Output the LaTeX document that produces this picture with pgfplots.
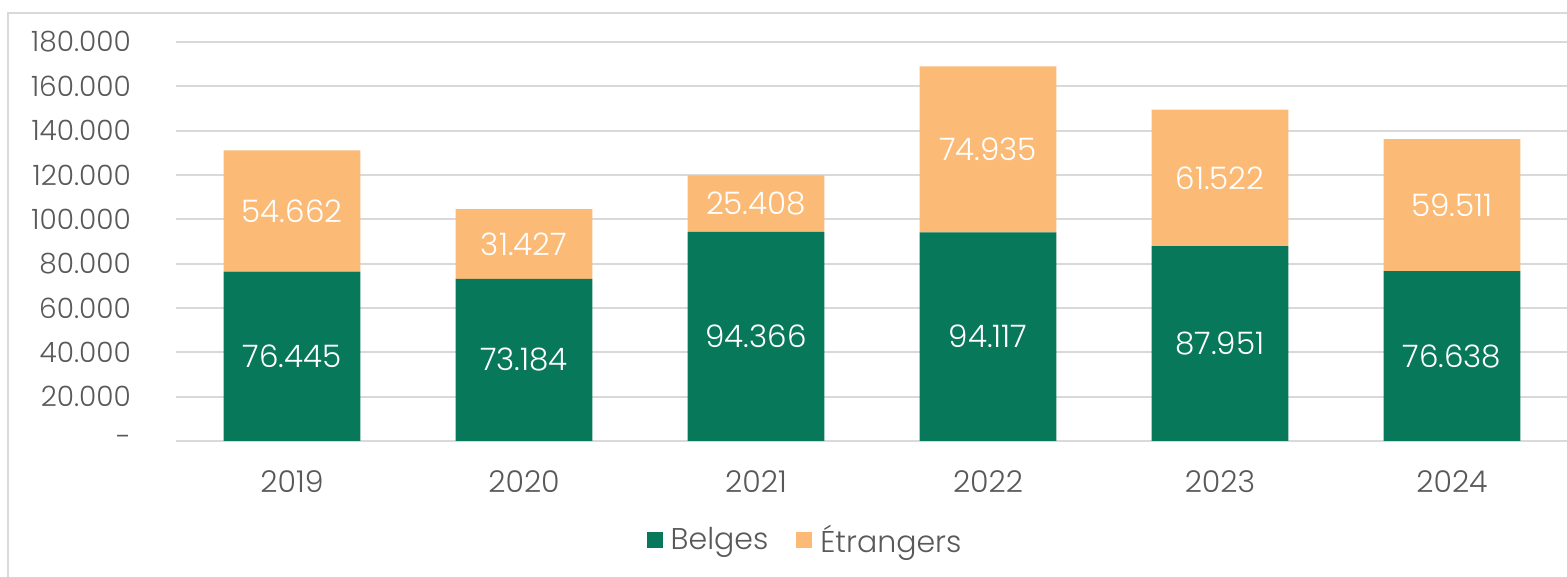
\documentclass[border=0pt]{standalone}
\usepackage{pgfplots}
\usepackage{pgfplotstable}
\usepackage{fontspec}
\setmainfont{Poppins Light}
\pgfplotsset{compat=1.18}

\definecolor{belges}{HTML}{07785A}
\definecolor{etrangers}{HTML}{FBBB77}
\definecolor{txt}{HTML}{595959}
\definecolor{gridc}{HTML}{D9D9D9}

% visiteurs par annee
\pgfplotstableread{
x  b      e
0  76445  54662
1  73184  31427
2  94366  25408
3  94117  74935
4  87951  61522
5  76638  59511
}\visitors

\begin{document}
\begin{tikzpicture}
\path[use as bounding box] (-88pt,-68pt) rectangle (695.5pt,220.5pt);
\draw[gridc, line width=1pt] (-84pt,-68pt) -- (-84pt,214pt) -- (695.5pt,214pt);
\pgfplotsset{base/.style={
    at={(0,0)}, anchor=south west, scale only axis,
    width=696pt, height=199.5pt,
    xmin=-0.5, xmax=5.5, ymin=0, ymax=180000}}
\begin{axis}[base,
    ybar stacked, bar width=0.59,
    axis line style={draw=none},
    major tick length=0pt,
    scaled y ticks=false,
    ymajorgrids, grid style={gridc, line width=1pt},
    ytick={0,20000,...,180000},
    yticklabels={-,20.000,40.000,60.000,80.000,100.000,120.000,140.000,160.000,180.000},
    xtick={0,...,5},
    xticklabels={2019,2020,2021,2022,2023,2024},
    yticklabel style={font=\fontsize{14}{16}\selectfont, text=txt, xshift=-19pt},
    xticklabel style={font=\fontsize{15}{17}\selectfont, text=txt, yshift=-11.5pt},
    legend style={at={(0.4526,-0.248)}, anchor=center, draw=none, fill=none,
        legend columns=2, font=\fontsize{15}{17}\selectfont, text=txt,
        /tikz/every odd column/.append style={column sep=2pt},
        /tikz/every even column/.append style={column sep=12pt}},
    legend image code/.code={\fill[#1, draw=none] (0pt,-4pt) rectangle (8pt,4pt);},
]
\addplot[fill=belges, draw=none] table[x=x, y=b] {\visitors};
\addplot[fill=etrangers, draw=none] table[x=x, y=e] {\visitors};
\legend{Belges, Étrangers}
\end{axis}
% etiquettes centrees dans chaque segment
\begin{axis}[base, hide axis,
    nodes near coords={\pgfmathprintnumber[fixed, precision=0, 1000 sep={.}, assume math mode=true]{\pgfplotspointmeta}},
    every node near coord/.style={anchor=center, text=white, font=\fontsize{15.5}{18}\selectfont},
]
\addplot[draw=none, mark=none, point meta=\thisrow{b}] table[x=x, y expr=\thisrow{b}/2] {\visitors};
\addplot[draw=none, mark=none, point meta=\thisrow{e}] table[x=x, y expr=\thisrow{b}+\thisrow{e}/2] {\visitors};
\end{axis}
\end{tikzpicture}
\end{document}
